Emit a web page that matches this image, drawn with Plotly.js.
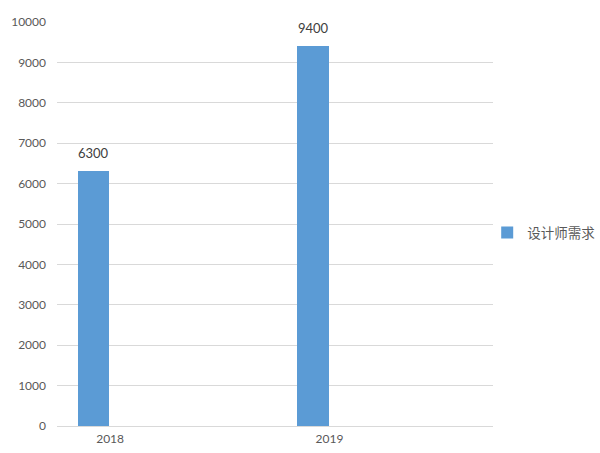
<!DOCTYPE html>
<html>
<head>
<meta charset="utf-8">
<script src="https://cdn.plot.ly/plotly-3.0.1.min.js"></script>
<style>html,body{margin:0;padding:0;background:#fff;}#chart{width:600px;height:453px;}</style>
</head>
<body>
<div id="chart"></div>
<script>
const categories = ["2018", "2019"];
const demand = [6300, 9400];
const seriesName = "设计师需求";
const yTicks = [0, 1000, 2000, 3000, 4000, 5000, 6000, 7000, 8000, 9000, 10000];

const fontFam = "Lato, 'Noto Sans CJK SC', sans-serif";
const barWidth = 0.142;
const barOffset = -0.146;

const trace = {
  type: "bar",
  x: categories,
  y: demand,
  name: seriesName,
  width: barWidth,
  offset: barOffset,
  marker: { color: "#5b9bd5" },
  hoverinfo: "x+y"
};

const annotations = demand.map((v, i) => ({
  x: i + barOffset + barWidth / 2,
  y: v,
  xref: "x",
  yref: "y",
  text: String(v),
  showarrow: false,
  yanchor: "bottom",
  yshift: 8,
  font: { family: fontFam, size: 13, color: "#404040" }
}));

const layout = {
  width: 600,
  height: 453,
  margin: { l: 57, r: 107, t: 22, b: 27, autoexpand: false },
  paper_bgcolor: "#ffffff",
  plot_bgcolor: "#ffffff",
  font: { family: fontFam, size: 12, color: "#595959" },
  showlegend: true,
  legend: {
    xref: "container", yref: "container",
    x: 0.812, y: 0.486, xanchor: "left", yanchor: "middle",
    font: { family: "'Noto Sans CJK SC', sans-serif", size: 13.5, color: "#595959" },
    bgcolor: "rgba(0,0,0,0)"
  },
  annotations: annotations,
  xaxis: {
    type: "category",
    range: [-0.242, 1.745],
    showgrid: false,
    showline: false,
    zeroline: false,
    ticks: "",
    ticklabelstandoff: 4,
    tickfont: { family: fontFam, size: 12, color: "#595959" },
    fixedrange: true
  },
  yaxis: {
    range: [0, 10000],
    tickvals: yTicks,
    ticktext: yTicks.map(String),
    showgrid: true,
    gridcolor: "#d9d9d9",
    gridwidth: 1,
    zeroline: true,
    zerolinecolor: "#d9d9d9",
    showline: false,
    ticks: "",
    ticklabelstandoff: 10,
    tickfont: { family: fontFam, size: 12, color: "#595959" },
    fixedrange: true
  },
  bargap: 0
};

Plotly.newPlot("chart", [trace], layout, { displayModeBar: false, staticPlot: true });
</script>
</body>
</html>
